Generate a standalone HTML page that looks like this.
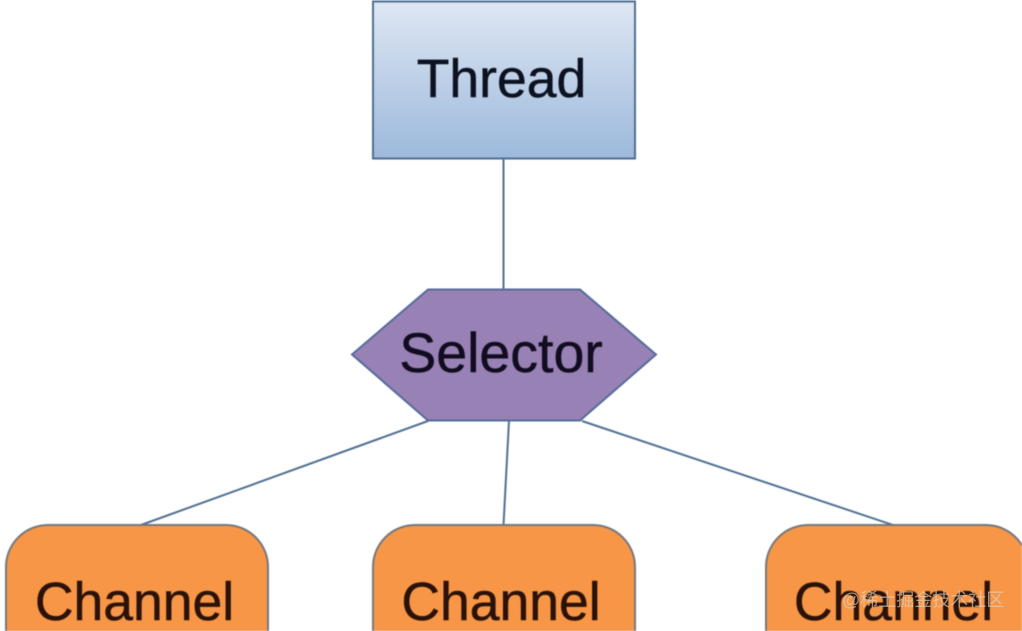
<!DOCTYPE html>
<html>
<head>
<meta charset="utf-8">
<style>
html,body{margin:0;padding:0;background:#fff;width:1022px;height:631px;overflow:hidden}
svg{display:block;filter:blur(0.5px)}
text{font-family:"Liberation Sans",sans-serif}
.wm{position:absolute;left:842px;top:590px;font:18px/20px "Liberation Sans","Noto Sans CJK SC",sans-serif;color:rgba(225,210,195,.65);white-space:nowrap}
</style>
</head>
<body>
<svg width="1022" height="631" viewBox="0 0 1022 631" xmlns="http://www.w3.org/2000/svg">
<defs>
<linearGradient id="g" x1="0" y1="0" x2="0" y2="1">
<stop offset="0" stop-color="#dfe7f3"/>
<stop offset="1" stop-color="#9cb9dc"/>
</linearGradient>
</defs>
<g stroke="#4f6f92" stroke-width="2" fill="none">
<line x1="503.500" y1="158" x2="503.500" y2="289"/>
<line x1="428" y1="421" x2="141" y2="525"/>
<line x1="509" y1="421" x2="503.500" y2="525"/>
<line x1="582" y1="421" x2="893" y2="525"/>
</g>
<rect x="373" y="1.500" width="262" height="157" fill="url(#g)" stroke="#4f6f92" stroke-width="2"/>
<polygon points="428,289.500 580,289.500 656,354.500 580,420.500 428,420.500 352,354.500" fill="#9881b5" stroke="#556a9a" stroke-width="2"/>
<g stroke="#75777c" stroke-width="2" fill="#f79646">
<path d="M6 631V567A42 42 0 0 1 48 525H226A42 42 0 0 1 268 567V631"/>
<path d="M373 631V567A42 42 0 0 1 415 525H593A42 42 0 0 1 635 567V631"/>
</g>
<path d="M766 631V567A42 42 0 0 1 808 525H986A42 42 0 0 1 1022 545.400V631Z" fill="#f79646"/>
<path d="M766 631V567A42 42 0 0 1 808 525H986A42 42 0 0 1 1022 545.400" fill="none" stroke="#75777c" stroke-width="2"/>
<g text-anchor="middle" stroke-width="0.5">
<text x="501.500" y="97" font-size="53.500" fill="#0c1220" stroke="#0c1220">Thread</text>
<text x="501" y="372" font-size="55.500" fill="#120c20" stroke="#120c20">Selector</text>
<text x="134.500" y="620" font-size="53.500" fill="#2a1208" stroke="#2a1208">Channel</text>
<text x="501" y="620" font-size="53.500" fill="#2a1208" stroke="#2a1208">Channel</text>
<text x="893.500" y="620" font-size="53.500" fill="#2a1208" stroke="#2a1208">Channel</text>
</g>
</svg>
<div class="wm">@稀土掘金技术社区</div>
</body>
</html>
